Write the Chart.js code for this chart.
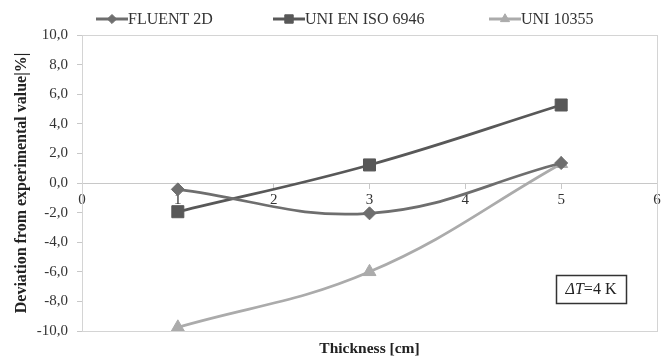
<!DOCTYPE html>
<html>
<head>
<meta charset="utf-8">
<script src="https://cdn.jsdelivr.net/npm/chart.js@4/dist/chart.umd.min.js"></script>
<style>
  html, body { margin: 0; padding: 0; background: #fff; }
  #wrap { width: 668px; height: 363px; }
</style>
</head>
<body>
<div id="wrap"><canvas id="c" width="668" height="363"></canvas></div>
<script>
// Thickness of the sample [cm]
const thickness = [1, 3, 5];
// Deviation from the experimental value [%]
const fluent2d = [-0.43, -2.05, 1.35];
const uniEnIso6946 = [-1.94, 1.22, 5.27];
const uni10355 = [-9.75, -6.0, 1.3];
const seriesNames = ['FLUENT 2D', 'UNI EN ISO 6946', 'UNI 10355'];
const yTicks = [-10, -8, -6, -4, -2, 0, 2, 4, 6, 8, 10];
const xTicks = [0, 1, 2, 3, 4, 5, 6];

const FONT = '"Liberation Serif", "Times New Roman", serif';
const colors = ['#6e6e6e', '#585858', '#ababab'];
const markers = ['rectRot', 'rect', 'triangle'];
const markerSize = [6.5, 8.5, 7.5];

function pts(ys) { return thickness.map((x, i) => ({ x: x, y: ys[i] })); }

// Legend entries: short line with the marker on it
const legendPlugin = {
  id: 'lineLegend',
  afterDraw(chart) {
    const ctx = chart.ctx;
    const starts = [96, 273, 489];
    const y = 19;
    ctx.save();
    ctx.font = '16px ' + FONT;
    ctx.textBaseline = 'middle';
    seriesNames.forEach((name, i) => {
      const x0 = starts[i];
      ctx.strokeStyle = colors[i];
      ctx.lineWidth = 3;
      ctx.beginPath();
      ctx.moveTo(x0, y);
      ctx.lineTo(x0 + 32, y);
      ctx.stroke();
      ctx.fillStyle = colors[i];
      ctx.lineWidth = 1;
      Chart.helpers.drawPoint(ctx, {
        pointStyle: markers[i], radius: markerSize[i] * 0.7, borderWidth: 1, rotation: 0
      }, x0 + 16, y);
      ctx.fillStyle = '#333';
      ctx.fillText(name, x0 + 32, y + 1);
    });
    ctx.restore();
  }
};

// Light frame around the plot area and the ΔT label box
const framePlugin = {
  id: 'frame',
  beforeDatasetsDraw(chart) {
    const a = chart.chartArea;
    const ctx = chart.ctx;
    ctx.save();
    ctx.strokeStyle = '#d4d4d4';
    ctx.lineWidth = 1;
    ctx.strokeRect(a.left + 0.5, a.top + 0.5, a.right - a.left, a.bottom - a.top);
    ctx.restore();
  },
  afterDraw(chart) {
    const ctx = chart.ctx;
    ctx.save();
    ctx.fillStyle = '#fff';
    ctx.fillRect(556, 275, 70, 28);
    ctx.strokeStyle = '#333';
    ctx.lineWidth = 1.5;
    ctx.strokeRect(556.5, 275.5, 70, 28);
    ctx.fillStyle = '#222';
    ctx.textBaseline = 'middle';
    ctx.font = 'italic 16px ' + FONT;
    const a = 'ΔT';
    const wa = ctx.measureText(a).width;
    ctx.font = '16px ' + FONT;
    const b = '=4 K';
    const wb = ctx.measureText(b).width;
    const sx = 556 + (70 - wa - wb) / 2;
    ctx.font = 'italic 16px ' + FONT;
    ctx.fillText(a, sx, 290);
    ctx.font = '16px ' + FONT;
    ctx.fillText(b, sx + wa, 290);
    ctx.restore();
  }
};

function ds(label, ys, i) {
  return {
    label: label,
    data: pts(ys),
    borderColor: colors[i],
    backgroundColor: colors[i],
    borderWidth: 2.7,
    pointStyle: markers[i],
    pointRadius: markerSize[i],
    pointBorderWidth: 1,
    tension: 0.4,
    xAxisID: 'x',
    yAxisID: 'y'
  };
}

new Chart(document.getElementById('c'), {
  type: 'line',
  data: {
    datasets: [
      ds(seriesNames[0], fluent2d, 0),
      ds(seriesNames[1], uniEnIso6946, 1),
      ds(seriesNames[2], uni10355, 2)
    ]
  },
  options: {
    responsive: false,
    animation: false,
    devicePixelRatio: 1,
    layout: { padding: { top: 35, right: 11, left: 0, bottom: 0 } },
    plugins: { legend: { display: false }, tooltip: { enabled: false } },
    scales: {
      x: {
        type: 'linear', position: 'bottom', min: 0, max: 6,
        ticks: { display: false },
        grid: { display: false },
        border: { display: true, color: '#d4d4d4' },
        afterFit(axis) { axis.height = 32; },
        title: { display: true, text: 'Thickness [cm]', color: '#222',
                 font: { family: FONT, size: 15.5, weight: 'bold' }, padding: { top: 0, bottom: 5 } }
      },
      x0: {
        type: 'linear', position: { y: 0 }, min: 0, max: 6,
        afterBuildTicks(axis) { axis.ticks = xTicks.map(v => ({ value: v })); },
        ticks: { color: '#333', font: { family: FONT, size: 15 }, padding: 3 },
        grid: { drawOnChartArea: false, tickLength: 5, color: '#c8c8c8' },
        border: { display: true, color: '#c8c8c8' }
      },
      y: {
        type: 'linear', min: -10, max: 10,
        afterBuildTicks(axis) { axis.ticks = yTicks.map(v => ({ value: v })); },
        afterFit(axis) { axis.width = 82; },
        ticks: {
          color: '#333', font: { family: FONT, size: 15 }, padding: 9,
          callback: v => v.toFixed(1).replace('.', ',')
        },
        grid: { drawOnChartArea: false, tickLength: 5, color: '#c8c8c8' },
        border: { display: true, color: '#c8c8c8' },
        title: { display: true, text: 'Deviation from experimental value|%|', color: '#222',
                 font: { family: FONT, size: 16, weight: 'bold' }, padding: { top: 12, bottom: 0 } }
      }
    }
  },
  plugins: [legendPlugin, framePlugin]
});
</script>
</body>
</html>
